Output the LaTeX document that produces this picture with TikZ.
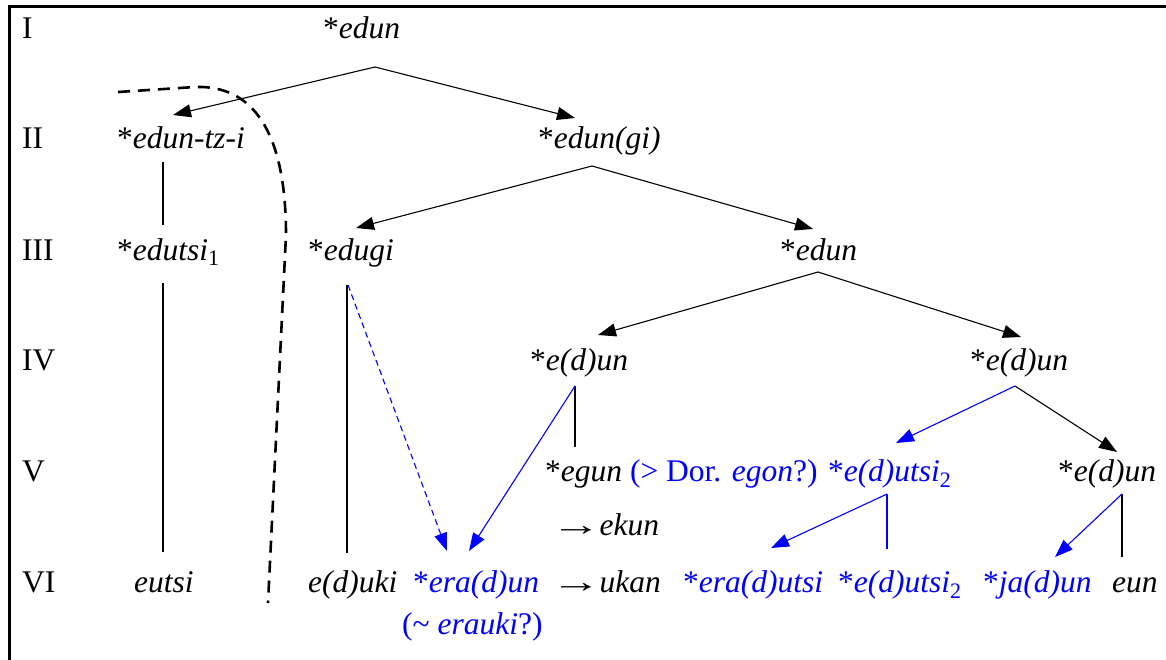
\documentclass[tikz,border=0pt]{standalone}
\usepackage{fontspec}
\setmainfont{Liberation Serif}[Ligatures=TeX]
\newfontfamily\tms{Liberation Serif}
\usetikzlibrary{arrows.meta}
\newcommand{\rarr}{\makebox[1em][c]{\scalebox{1.6}[1]{→}}}
\begin{document}
\begin{tikzpicture}[x=1pt,y=-1pt,
  txt/.style={anchor=base west, inner sep=0pt, font=\tms\fontsize{31.5}{38}\selectfont},
  bl/.style={txt, text=blue},
  link/.style={line width=1.1pt},
  arr/.style={line width=1.1pt, -{Triangle[length=18pt,width=13pt]}},
  barr/.style={arr, color=blue},
  bline/.style={link, color=blue},
  bdash/.style={barr, dash pattern=on 6pt off 4pt},
  border/.style={line width=3pt},
  bigdash/.style={line width=2.6pt, dash pattern=on 12pt off 8pt}
]
\useasboundingbox (0,0) rectangle (1166,660);
\draw[border] (9,660) -- (9,6.5) -- (1166,6.5);

% row labels
\node[txt] (lI)   at (22,39)  {I};
\node[txt] (lII)  at (22,149) {II};
\node[txt] (lIII) at (22,260) {III};
\node[txt] (lIV)  at (22,370) {IV};
\node[txt] (lV)   at (22,481) {V};
\node[txt] (lVI)  at (22,592) {VI};

% forms
\node[txt] (n1)  at (323,39)  {*\textit{edun}};
\node[txt] (n2a) at (117,149) {*\textit{edun-tz-i}};
\node[txt] (n2b) at (538,149) {*\textit{edun(gi)}};
\node[txt] (n3a) at (117,260) {*\textit{edutsi}\textsubscript{1}};
\node[txt] (n3b) at (308,260) {*\textit{edugi}};
\node[txt] (n3c) at (780,260) {*\textit{edun}};
\node[txt] (n4a) at (530,370) {*\textit{e(d)un}};
\node[txt] (n4b) at (970,370) {*\textit{e(d)un}};
\node[txt] (n5a) at (545,481) {*\textit{egun} \textcolor{blue}{(> Dor. \textit{egon}?) *\textit{e(d)utsi}\textsubscript{2}}};
\node[txt] (n5b) at (1058,481) {*\textit{e(d)un}};
\node[txt] (ekun) at (560,535) {\rarr{} \textit{ekun}};
\node[txt] (n6a) at (134,592) {\textit{eutsi}};
\node[txt] (n6b) at (308,592) {\textit{e(d)uki}};
\node[bl]  (n6c) at (413,592) {*\textit{era(d)un}};
\node[txt] (ukan) at (560,592) {\rarr{} \textit{ukan}};
\node[bl]  (n6d) at (683,592) {*\textit{era(d)utsi}};
\node[bl]  (n6e) at (838,592) {*\textit{e(d)utsi}\textsubscript{2}};
\node[bl]  (n6f) at (983,592) {*\textit{ja(d)un}};
\node[txt] (n6g) at (1112,592) {\textit{eun}};
\node[bl]  (n6h) at (402,634) {(\textasciitilde{} \textit{erauki}?)};

% connector points
\coordinate (a1)  at (375,67);
\coordinate (t2a) at (173,115);
\coordinate (t2b) at (575,118);
\coordinate (a2)  at (592,166);
\coordinate (t3b) at (356,228);
\coordinate (t3c) at (813,229);
\coordinate (a3)  at (818,272);
\coordinate (t4a) at (598,335);
\coordinate (t4b) at (1021,337);
\coordinate (a4a) at (575,386);
\coordinate (a4b) at (1015,386);
\coordinate (t5a) at (575,447);
\coordinate (t5e) at (896,443);
\coordinate (t5b) at (1117,452);
\coordinate (a5e) at (887,494);
\coordinate (a5b) at (1122,494);
\coordinate (t6d) at (771,548);
\coordinate (t6e) at (887,549);
\coordinate (t6f) at (1055,557);
\coordinate (t6g) at (1122,557);
\coordinate (s2a) at (163,162);
\coordinate (e3a) at (163,225);
\coordinate (s3a) at (163,283);
\coordinate (e6a) at (163,552);
\coordinate (s3b) at (347,285);
\coordinate (e6b) at (347,553);
\coordinate (d3b) at (348,285);
\coordinate (t6c1) at (447,551);
\coordinate (t6c2) at (469,551);

% black tree
\draw[arr] (a1) -- (t2a);
\draw[arr] (a1) -- (t2b);
\draw[arr] (a2) -- (t3b);
\draw[arr] (a2) -- (t3c);
\draw[arr] (a3) -- (t4a);
\draw[arr] (a3) -- (t4b);
\draw[arr] (a4b) -- (t5b);
\draw[link] (s2a) -- (e3a);
\draw[link] (s3a) -- (e6a);
\draw[link] (s3b) -- (e6b);
\draw[link] (a4a) -- (t5a);
\draw[link] (a5b) -- (t6g);

% blue
\draw[bdash] (d3b) -- (t6c1);
\draw[barr] (a4a) -- (t6c2);
\draw[barr] (a4b) -- (t5e);
\draw[barr] (a5e) -- (t6d);
\draw[bline] (a5e) -- (t6e);
\draw[barr] (a5b) -- (t6f);

% thick dashed boundary
\draw[bigdash] (118,92) -- (195,87) .. controls (252,85) and (286,130) .. (286,235) -- (268,603);
\end{tikzpicture}
\end{document}
